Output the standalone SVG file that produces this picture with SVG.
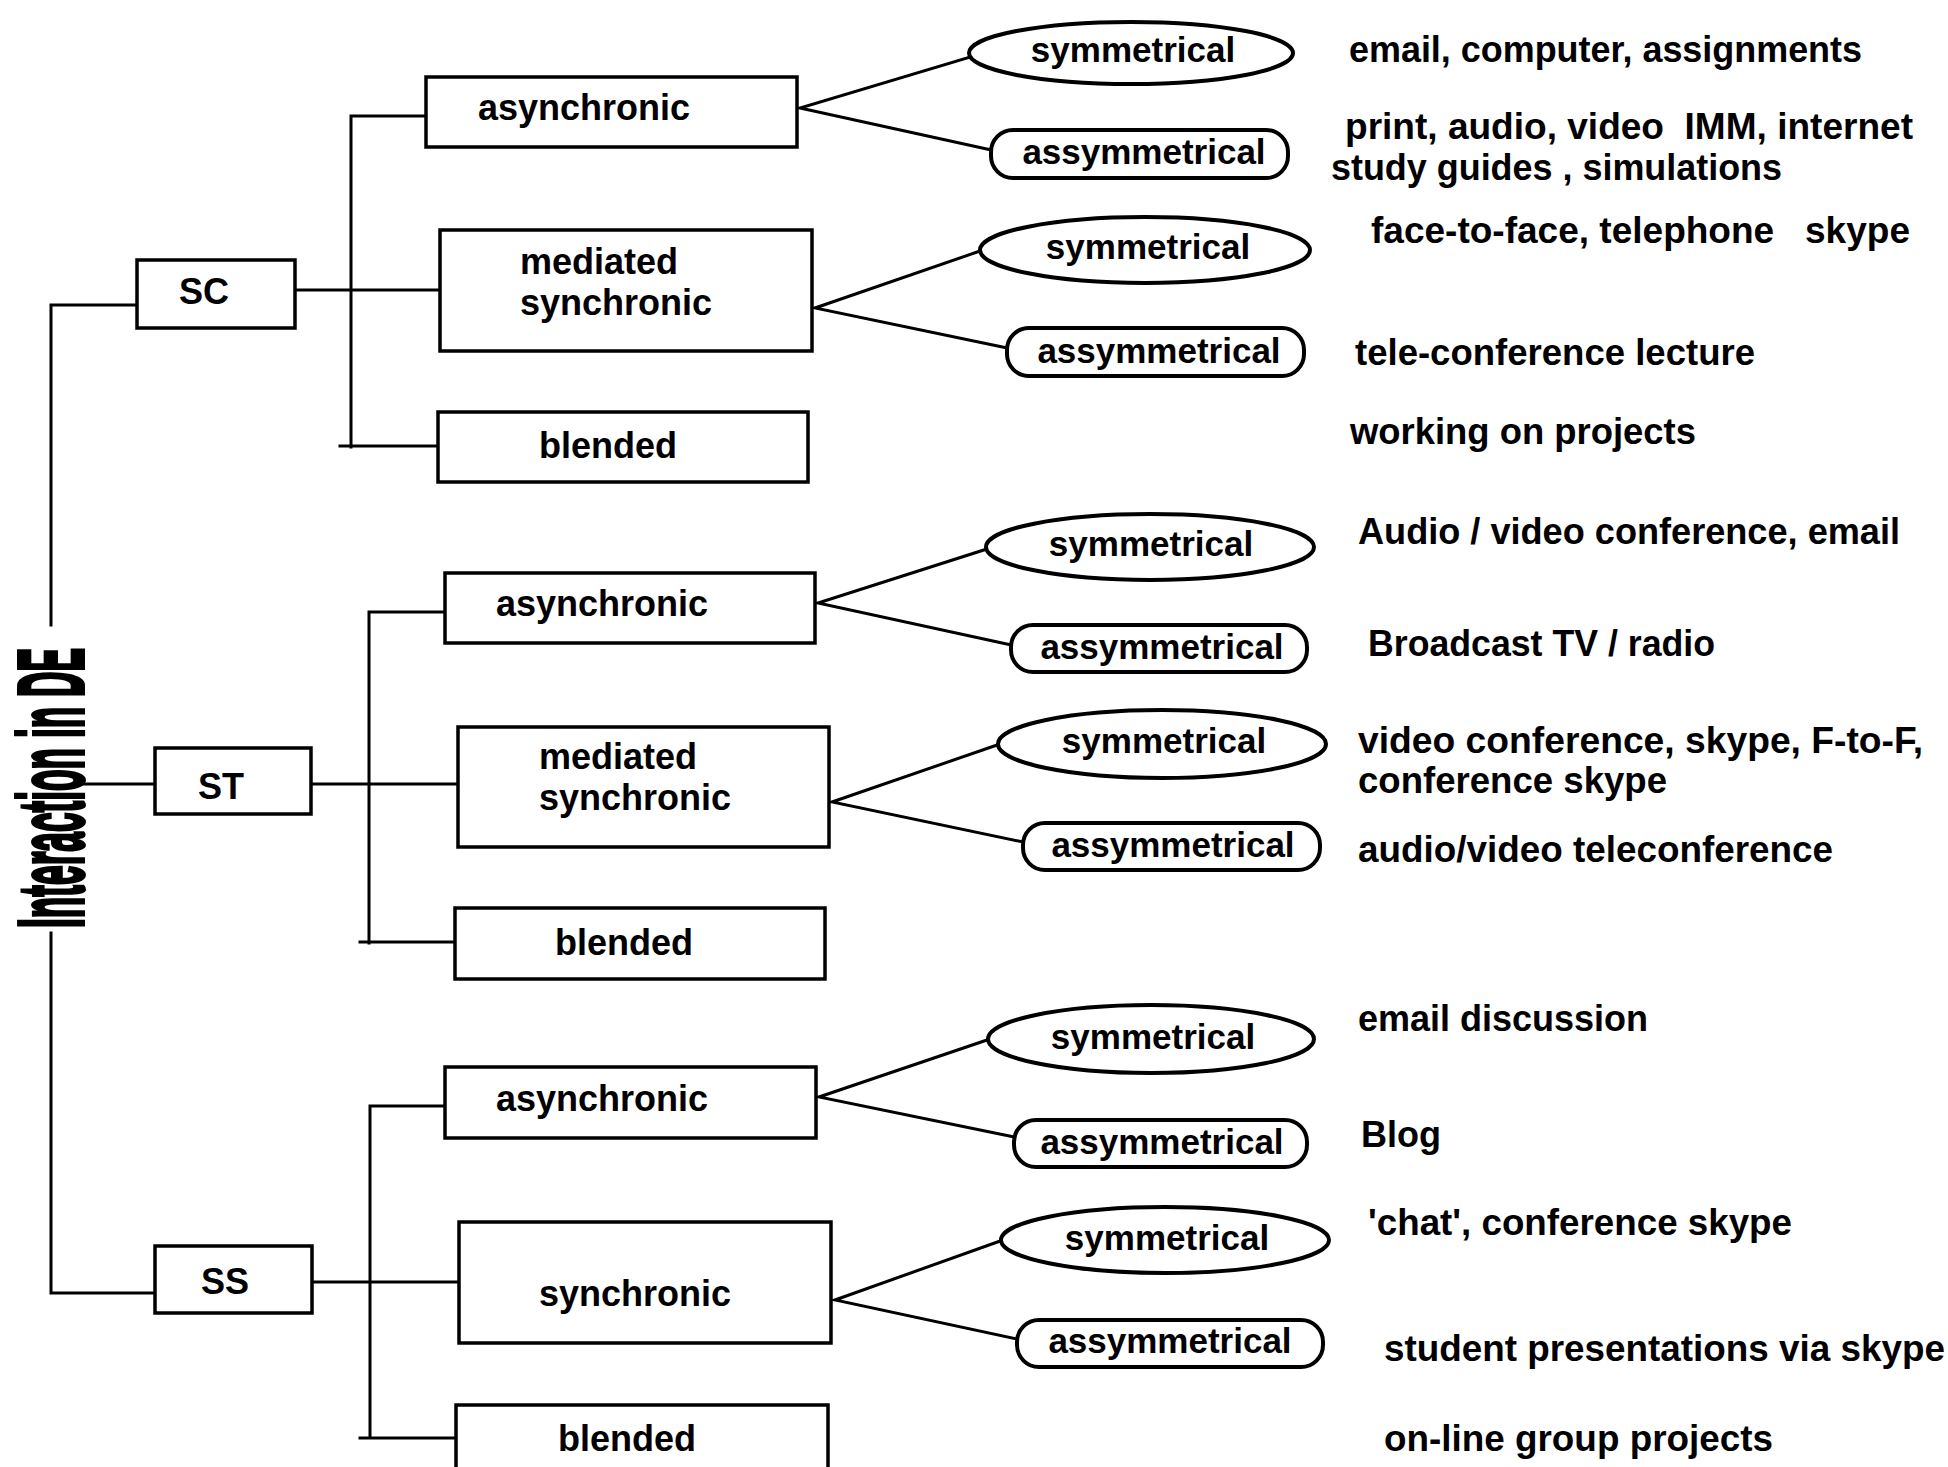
<svg xmlns="http://www.w3.org/2000/svg" width="1948" height="1467" viewBox="0 0 1948 1467">
<style>
.bx{fill:#fff;stroke:#000;stroke-width:3.5}
.el{fill:#fff;stroke:#000;stroke-width:4}
.ln{fill:none;stroke:#000;stroke-width:3;stroke-linecap:square}
text{font-family:"Liberation Sans",Arial,sans-serif;font-weight:bold;fill:#000}
.lb{font-size:36px}
.ov{font-size:35px;text-anchor:middle}
.ds{font-size:36px;white-space:pre}
.tt{font-size:92px;stroke:#000;stroke-width:4}
</style>
<rect width="1948" height="1467" fill="#fff"/>
<g id="connectors">
<path class="ln" d="M137 305 H51 V625 M51 933 V1293 H155 M83 784 H155"/>
<path class="ln" d="M295 290 H440 M351 116 V447 M351 116 H426 M340 446 H438"/>
<path class="ln" d="M311 784 H458 M369 612 V943 M369 612 H445 M360 942 H455"/>
<path class="ln" d="M312 1282 H459 M370 1106 V1438 M370 1106 H445 M360 1438 H456"/>
<path class="ln" d="M970 57 L800 108 L991 150"/>
<path class="ln" d="M983 250 L815 308 L1007 348"/>
<path class="ln" d="M987 549 L818 603 L1011 645"/>
<path class="ln" d="M1000 744 L832 802 L1023 842"/>
<path class="ln" d="M990 1039 L819 1097 L1014 1137"/>
<path class="ln" d="M1003 1240 L835 1300 L1017 1339"/>
</g>
<g id="title"><text class="tt" transform="translate(83,928) rotate(-90) scale(0.383,1)">Interaction in DE</text></g>
<g id="SC"><rect class="bx" x="137" y="260" width="158" height="68"/><text class="lb" x="179" y="304">SC</text></g>
<g id="SC-async"><rect class="bx" x="426" y="77" width="371" height="70"/><text class="lb" x="478" y="120">asynchronic</text></g>
<g id="SC-med"><rect class="bx" x="440" y="230" width="372" height="121"/><text class="lb" x="520" y="274">mediated</text><text class="lb" x="520" y="315">synchronic</text></g>
<g id="SC-blend"><rect class="bx" x="438" y="412" width="370" height="70"/><text class="lb" x="539" y="458">blended</text></g>
<g id="ST"><rect class="bx" x="155" y="748" width="156" height="66"/><text class="lb" x="198" y="799">ST</text></g>
<g id="ST-async"><rect class="bx" x="445" y="573" width="370" height="70"/><text class="lb" x="496" y="616">asynchronic</text></g>
<g id="ST-med"><rect class="bx" x="458" y="727" width="371" height="120"/><text class="lb" x="539" y="769">mediated</text><text class="lb" x="539" y="810">synchronic</text></g>
<g id="ST-blend"><rect class="bx" x="455" y="908" width="370" height="71"/><text class="lb" x="555" y="955">blended</text></g>
<g id="SS"><rect class="bx" x="155" y="1246" width="157" height="67"/><text class="lb" x="201" y="1294">SS</text></g>
<g id="SS-async"><rect class="bx" x="445" y="1067" width="371" height="71"/><text class="lb" x="496" y="1111">asynchronic</text></g>
<g id="SS-sync"><rect class="bx" x="459" y="1222" width="372" height="121"/><text class="lb" x="539" y="1306">synchronic</text></g>
<g id="SS-blend"><rect class="bx" x="456" y="1405" width="372" height="100"/><text class="lb" x="558" y="1451">blended</text></g>
<g id="sym1"><ellipse class="el" cx="1131" cy="53" rx="162" ry="31"/><text class="ov" x="1133" y="62">symmetrical</text></g>
<g id="asym1"><rect class="el" x="991" y="130" width="297" height="48" rx="22"/><text class="ov" x="1144" y="164">assymmetrical</text></g>
<g id="sym2"><ellipse class="el" cx="1145" cy="250" rx="165" ry="33"/><text class="ov" x="1148" y="259">symmetrical</text></g>
<g id="asym2"><rect class="el" x="1007" y="328" width="297" height="48" rx="22"/><text class="ov" x="1159" y="363">assymmetrical</text></g>
<g id="sym3"><ellipse class="el" cx="1150" cy="547" rx="164" ry="33"/><text class="ov" x="1151" y="556">symmetrical</text></g>
<g id="asym3"><rect class="el" x="1011" y="625" width="296" height="47" rx="22"/><text class="ov" x="1162" y="659">assymmetrical</text></g>
<g id="sym4"><ellipse class="el" cx="1162" cy="744" rx="164" ry="34"/><text class="ov" x="1164" y="753">symmetrical</text></g>
<g id="asym4"><rect class="el" x="1023" y="823" width="297" height="47" rx="22"/><text class="ov" x="1173" y="857">assymmetrical</text></g>
<g id="sym5"><ellipse class="el" cx="1151" cy="1039" rx="163" ry="34"/><text class="ov" x="1153" y="1049">symmetrical</text></g>
<g id="asym5"><rect class="el" x="1014" y="1120" width="293" height="47" rx="22"/><text class="ov" x="1162" y="1154">assymmetrical</text></g>
<g id="sym6"><ellipse class="el" cx="1165" cy="1240" rx="164" ry="33"/><text class="ov" x="1167" y="1250">symmetrical</text></g>
<g id="asym6"><rect class="el" x="1017" y="1320" width="306" height="47" rx="22"/><text class="ov" x="1170" y="1353">assymmetrical</text></g>
<g id="descriptions">
<text class="ds" x="1349" y="62" textLength="513" lengthAdjust="spacingAndGlyphs">email, computer, assignments</text>
<text class="ds" x="1345" y="139" textLength="568" lengthAdjust="spacingAndGlyphs">print, audio, video  IMM, internet</text>
<text class="ds" x="1331" y="180" textLength="451" lengthAdjust="spacingAndGlyphs">study guides , simulations</text>
<text class="ds" x="1371" y="243" textLength="539" lengthAdjust="spacingAndGlyphs">face-to-face, telephone   skype</text>
<text class="ds" x="1355" y="365" textLength="400" lengthAdjust="spacingAndGlyphs">tele-conference lecture</text>
<text class="ds" x="1350" y="444" textLength="346" lengthAdjust="spacingAndGlyphs">working on projects</text>
<text class="ds" x="1358" y="544" textLength="542" lengthAdjust="spacingAndGlyphs">Audio / video conference, email</text>
<text class="ds" x="1368" y="656" textLength="347" lengthAdjust="spacingAndGlyphs">Broadcast TV / radio</text>
<text class="ds" x="1358" y="753" textLength="565" lengthAdjust="spacingAndGlyphs">video conference, skype, F-to-F,</text>
<text class="ds" x="1358" y="793" textLength="309" lengthAdjust="spacingAndGlyphs">conference skype</text>
<text class="ds" x="1358" y="862" textLength="475" lengthAdjust="spacingAndGlyphs">audio/video teleconference</text>
<text class="ds" x="1358" y="1031" textLength="290" lengthAdjust="spacingAndGlyphs">email discussion</text>
<text class="ds" x="1361" y="1147" textLength="80" lengthAdjust="spacingAndGlyphs">Blog</text>
<text class="ds" x="1368" y="1235" textLength="424" lengthAdjust="spacingAndGlyphs">'chat', conference skype</text>
<text class="ds" x="1384" y="1361" textLength="561" lengthAdjust="spacingAndGlyphs">student presentations via skype</text>
<text class="ds" x="1384" y="1451" textLength="389" lengthAdjust="spacingAndGlyphs">on-line group projects</text>
</g>
</svg>
